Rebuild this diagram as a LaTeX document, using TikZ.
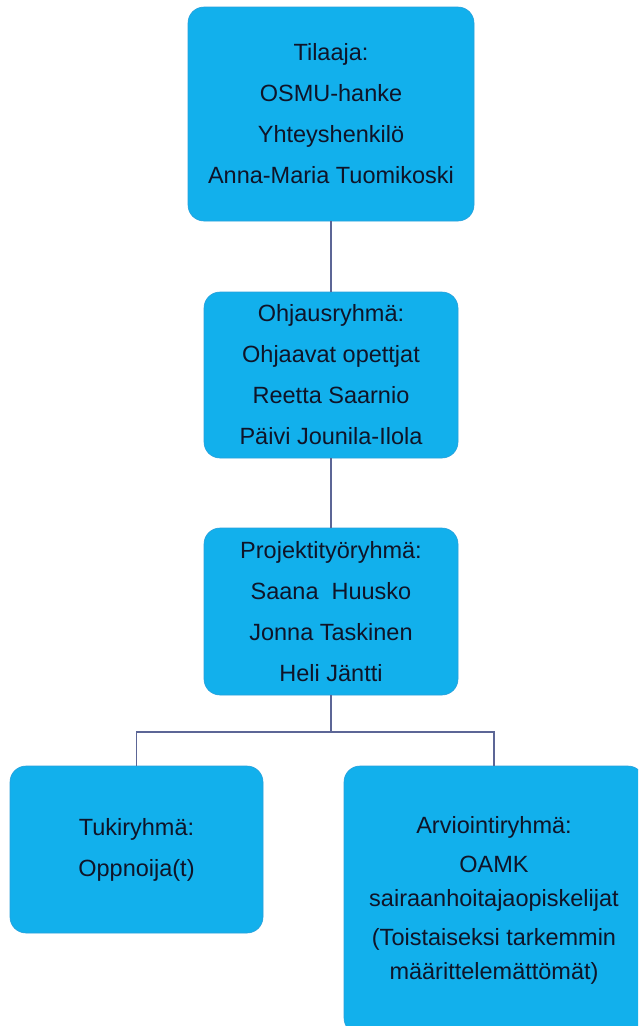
\documentclass[tikz,border=0pt]{standalone}
\usepackage{fontspec}
\setmainfont{Liberation Sans}
\definecolor{boxblue}{RGB}{18,176,236}
\definecolor{boxedge}{RGB}{40,160,220}
\definecolor{textdark}{RGB}{15,20,40}
\definecolor{linkc}{RGB}{92,102,150}
\begin{document}
\begin{tikzpicture}[x=1pt,y=-1pt,
  box/.style={fill=boxblue, draw=boxedge, line width=0.6pt, rounded corners=16pt,
    text=textdark, align=center, font=\fontsize{23.5}{41}\selectfont, inner sep=0pt},
  link/.style={draw=linkc, line width=1.8pt}]
\useasboundingbox (0,0) rectangle (638,1026);
\clip (0,0) rectangle (638,1026);
\fill[white] (0,0) rectangle (638,1026);
\node[box, minimum width=286pt, minimum height=214pt] (b1) at (331,114)
  {Tilaaja:\\OSMU-hanke\\Yhteyshenkilö\\Anna-Maria Tuomikoski};
\node[box, minimum width=254pt, minimum height=166pt] (b2) at (331,375)
  {Ohjausryhmä:\\Ohjaavat opettjat\\Reetta Saarnio\\Päivi Jounila-Ilola};
\node[box, minimum width=254pt, minimum height=167pt] (b3) at (331,611.5)
  {Projektityöryhmä:\\Saana\ \ Huusko\\Jonna Taskinen\\Heli Jäntti};
\node[box, minimum width=253pt, minimum height=167pt] (b4) at (136.5,849.5)
  {Tukiryhmä:\\Oppnoija(t)};
\node[box, minimum width=300pt, minimum height=268pt, font=\fontsize{23.5}{39}\selectfont] (b5) at (494,900)
  {Arviointiryhmä:\\OAMK\\[-5pt]sairaanhoitajaopiskelijat\\(Toistaiseksi tarkemmin\\[-5pt]määrittelemättömät)};
\coordinate (split) at (331,732);
\draw[link] (b1.south) -- (b2.north);
\draw[link] (b2.south) -- (b3.north);
\draw[link] (b3.south) -- (split);
\draw[link] (b4.north) |- (split) -| (b5.north);
\end{tikzpicture}
\end{document}
